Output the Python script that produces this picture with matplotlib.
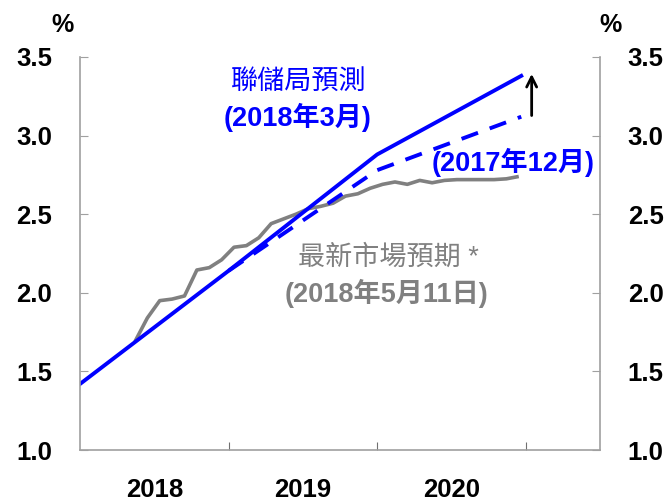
import matplotlib
matplotlib.use("Agg")
import matplotlib.pyplot as plt

plt.rcParams['font.family'] = ['Liberation Sans', 'Noto Sans CJK TC', 'DejaVu Sans']

# Fed projection (March 2018) - year positions and rates
fed_mar_x = [2018.0, 2019.0, 2020.0, 2020.97]
fed_mar_y = [1.42, 2.14, 2.88, 3.38]

# Fed projection (Dec 2017)
fed_dec_x = [2019.0, 2020.0, 2020.97]
fed_dec_y = [2.14, 2.78, 3.12]

# latest market expectations (11 May 2018), monthly from May 2018
mkt_start = 2018.37
mkt_y = [1.69, 1.84, 1.95, 1.96, 1.98, 2.145, 2.16, 2.21, 2.29, 2.30,
         2.35, 2.44, 2.47, 2.50, 2.535, 2.55, 2.57, 2.615, 2.63, 2.665,
         2.69, 2.705, 2.69, 2.715, 2.70, 2.715, 2.72, 2.72, 2.72, 2.72,
         2.725, 2.74]
mkt_x = [mkt_start + i / 12 for i in range(len(mkt_y))]

years = ['2018', '2019', '2020']
yticks = [1.0, 1.5, 2.0, 2.5, 3.0, 3.5]

blue = '#0000FF'
gray = '#808080'
spine_c = '#A0A0A0'

fig = plt.figure(figsize=(6.64, 5.04), dpi=100)
ax = fig.add_axes([80/664, 1-450/504, 520/664, 393/504])

ax.plot(mkt_x, mkt_y, color=gray, lw=2.6, solid_capstyle='butt')
ax.plot(fed_dec_x, fed_dec_y, color=blue, lw=2.8, dashes=(4.5, 3.2))
ax.plot(fed_mar_x, fed_mar_y, color=blue, lw=2.8)

ax.set_xlim(2018.0, 2021.5)
ax.set_ylim(1.0, 3.5)

ax.spines['top'].set_visible(False)
for s in ['left', 'right', 'bottom']:
    ax.spines[s].set_color(spine_c)
    ax.spines[s].set_linewidth(1.2)

ax.set_yticks(yticks)
ax.set_yticklabels([f'{v:.1f}' for v in yticks])
ax.tick_params(axis='y', which='major', direction='in', length=6, color=spine_c,
               left=True, right=True, labelleft=True, labelright=True,
               labelsize=18.5)
ax.tick_params(axis='y', which='major', pad=20)
for t in ax.yaxis.get_major_ticks():
    t.label1.set_fontweight('bold')
    t.label2.set_fontweight('bold')
    t.label2.set_fontsize(18.5)
ax.tick_params(axis='y', labelright=True, pad=20)

ax.set_xticks([2019.0, 2020.0, 2021.0])
ax.set_xticklabels([])
ax.tick_params(axis='x', which='major', direction='in', length=6, color='#707070')
ax.set_xticks([2018.5, 2019.5, 2020.5], minor=True)
ax.set_xticklabels(years, minor=True, fontsize=18.5, fontweight='bold')
ax.tick_params(axis='x', which='minor', length=0, pad=20)

# annotations
ax.text(2019.466, 3.335, '聯儲局預測', color=blue, fontsize=19.5, ha='center', va='center')
ax.text(2019.466, 3.118, '(2018年3月)', color=blue, fontsize=19.5, fontweight='bold',
        ha='center', va='center')
ax.text(2020.912, 2.832, '(2017年12月)', color=blue, fontsize=19.5, fontweight='bold',
        ha='center', va='center')
ax.text(2020.078, 2.221, '最新市場預期 *', color=gray, fontsize=19.5, ha='center', va='center')
ax.text(2020.065, 1.999, '(2018年5月11日)', color=gray, fontsize=19.5, fontweight='bold',
        ha='center', va='center')

ax.annotate('', xy=(2021.04, 3.41), xytext=(2021.04, 3.11),
            arrowprops=dict(arrowstyle='->', color='black', lw=2, mutation_scale=18))

fig.text(63/664, 1-25/504, '%', fontsize=18, fontweight='bold', ha='center', va='center')
fig.text(610/664, 1-25/504, '%', fontsize=18, fontweight='bold', ha='center', va='center')

fig.savefig('out.png', dpi=100)
